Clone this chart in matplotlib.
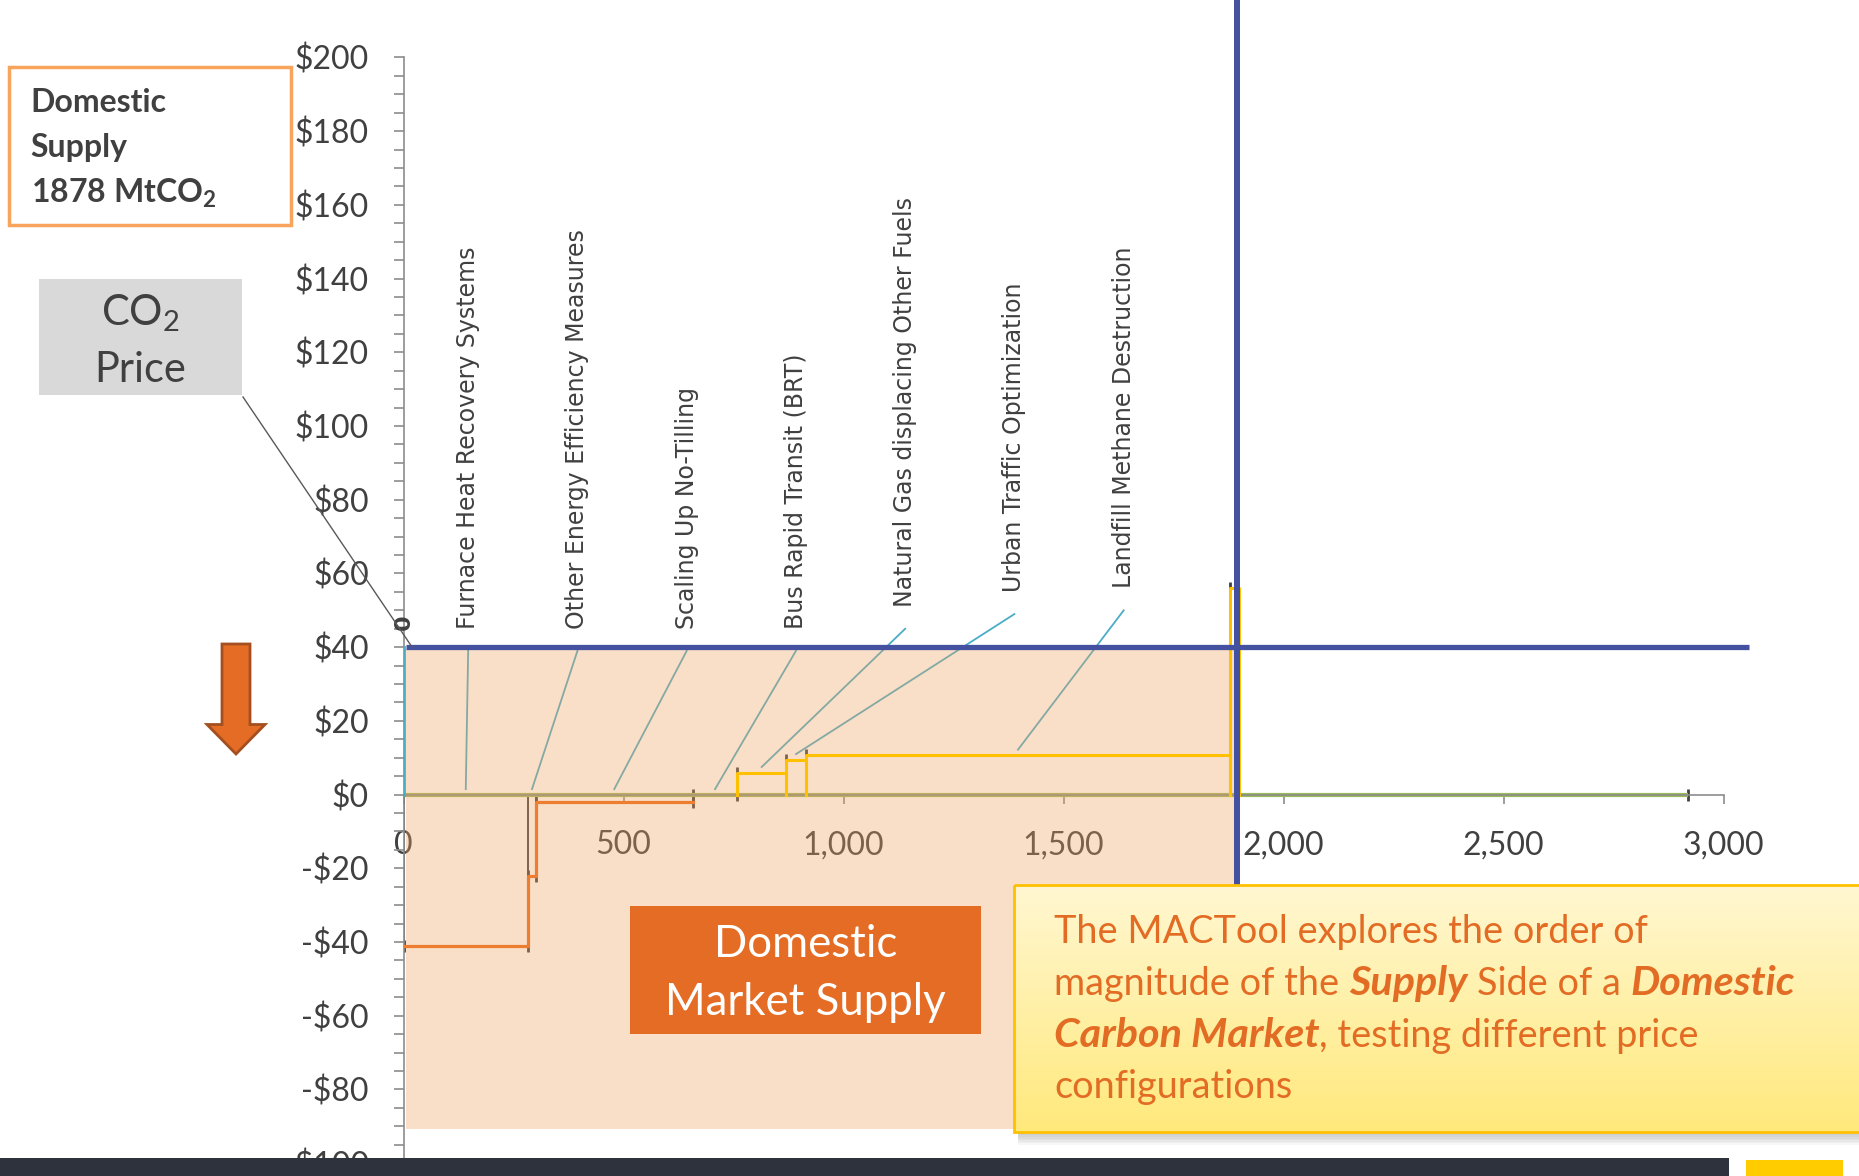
import numpy as np
import matplotlib
import matplotlib.pyplot as plt
from matplotlib.patches import Rectangle, Polygon
from matplotlib.colors import LinearSegmentedColormap
from matplotlib.ticker import MultipleLocator, FuncFormatter

plt.rcParams['font.family'] = ['Lato', 'DejaVu Sans']
plt.rcParams['mathtext.fontset'] = 'custom'
plt.rcParams['mathtext.rm'] = 'Lato'

# abatement measures in merit order: volume (MtCO2) and cost ($/tCO2)
measures = ["Furnace Heat Recovery Systems", "Other Energy Efficiency Measures",
            "Scaling Up No-Tilling", "Bus Rapid Transit (BRT)",
            "Natural Gas displacing Other Fuels", "Urban Traffic Optimization",
            "Landfill Methane Destruction"]
volumes = [283, 18, 356, 102, 110, 46, 963]
costs = [-41, -22, -2, 0, 6, 9.5, 10.7]

# first measure above the price, cut off by the supply line
extra_volume = 20
extra_cost = 56

carbon_price = 40
supply_line_x = 1895
total_potential = 2920

W, H = 1859, 1176
GRAY_TXT = '#404040'
AX_GRAY = '#8c8c8c'
BLUE = '#4450A0'
CYAN = '#4BACC6'
ORANGE = '#ED7D31'
YELLOW = '#FFC000'
GREEN = '#9BBB59'

fig = plt.figure(figsize=(W / 100, H / 100), dpi=100)
ax = fig.add_axes([403.5 / W, 12.8 / H, 1320 / W, 1105.7 / H])

edges = np.concatenate([[0], np.cumsum(volumes)])
left, right = edges[:-1], edges[1:]

# baseline of the whole potential
ax.plot([0, total_potential], [0, 0], color=GREEN, lw=3, zorder=2, solid_capstyle='butt')

# negative cost measures: dark bar edges + orange step
for l, r, c in zip(left, right, costs):
    if c < 0:
        ax.vlines([l, r], c, 0, color=GRAY_TXT, lw=1.2, zorder=1.9)
neg = [i for i, c in enumerate(costs) if c < 0]
ax.step(list(edges[:len(neg) + 1]), [costs[i] for i in neg] + [costs[neg[-1]]],
        where='post', color=ORANGE, lw=2.3, zorder=4)

# positive cost measures drawn as bar outlines
for l, r, c in zip(left, right, costs):
    if c > 0:
        ax.plot([l, l, r, r], [0, c, c, 0], color=YELLOW, lw=2.2, zorder=4)
x_end = edges[-1]
ax.plot([x_end, x_end, x_end + extra_volume, x_end + extra_volume],
        [0, extra_cost, extra_cost, 0], color=YELLOW, lw=2.2, zorder=4)

# point markers at step ends
ax.plot(np.concatenate([left, right, [x_end, total_potential]]),
        np.concatenate([costs, costs, [extra_cost, 0]]),
        ls='none', marker='|', ms=9, mew=2, color=GRAY_TXT, zorder=1.9)

ax.plot([0, 0], [0, carbon_price], color=CYAN, lw=2, zorder=3.5)

# leader lines and rotated labels
label_x = [147 + 248.3 * i for i in range(len(measures))]
label_bottom = [45, 45, 45, 45, 51, 55, 56]
for name, lx, lb, l, r, c in zip(measures, label_x, label_bottom, left, right, costs):
    ax.plot([lx, (l + r) / 2], [lb - 6, max(c, 0) + 1.5], color=CYAN, lw=1.3, zorder=2)
    ax.text(lx, lb, name, rotation=90, ha='center', va='bottom', fontsize=17,
            family='DejaVu Sans', color=GRAY_TXT, zorder=6)
ax.text(0, 44.7, "0", rotation=90, ha='center', va='bottom', fontsize=16,
        family='DejaVu Sans', fontweight='bold', color=GRAY_TXT, zorder=6)

# shaded supply region
ax.add_patch(Rectangle((5.7, -90.7), 1887 - 5.7, carbon_price - 0.5 + 90.7,
                       fc='#F1A462', alpha=0.35, ec='none', zorder=3, clip_on=False))

# price and supply lines
ax.plot([5.7, 3057], [carbon_price, carbon_price], color=BLUE, lw=3.8, zorder=5,
        clip_on=False, solid_capstyle='butt')
ax.plot([supply_line_x, supply_line_x], [-60, 216], color=BLUE, lw=4.3, zorder=5,
        clip_on=False, solid_capstyle='butt')

ax.set_xlim(0, 3000)
ax.set_ylim(-100, 200)
ax.xaxis.set_major_locator(MultipleLocator(500))
ax.yaxis.set_major_locator(MultipleLocator(20))
ax.yaxis.set_minor_locator(MultipleLocator(5))
ax.xaxis.set_major_formatter(FuncFormatter(lambda v, p: f"{v:,.0f}"))
ax.yaxis.set_major_formatter(FuncFormatter(lambda v, p: f"-${-v:.0f}" if v < 0 else f"${v:.0f}"))
ax.tick_params(axis='y', which='both', direction='out', length=7, width=1.2,
               color=AX_GRAY, labelsize=23, labelcolor=GRAY_TXT, pad=18)
ax.tick_params(axis='x', direction='out', length=6.5, width=1.2, color=AX_GRAY,
               labelsize=23, labelcolor=GRAY_TXT, pad=19)
for s in ['top', 'right']:
    ax.spines[s].set_visible(False)
ax.spines['bottom'].set_position(('data', 0))
for s in ['left', 'bottom']:
    ax.spines[s].set_color(AX_GRAY)
    ax.spines[s].set_linewidth(1.2)
ax.patch.set_visible(False)

# overlay in pixel coordinates for the slide shapes
ov = fig.add_axes([0, 0, 1, 1], zorder=5)
ov.set_facecolor('none')

ov.add_patch(Rectangle((9, 66.7), 282, 158.3, fc='white', ec='#F8A45C', lw=2.5))
for i, s in enumerate(["Domestic", "Supply", r"1878 MtCO$_\mathregular{2}$"]):
    ov.text(30.7, 111.7 + 45.3 * i, s, fontsize=23, fontweight='bold',
            color=GRAY_TXT, va='baseline')

ov.add_patch(Rectangle((39.3, 279.3), 202.4, 115.7, fc='#D9D9D9', ec='none'))
ov.text(140.5, 325, r"CO$_\mathregular{2}$", fontsize=30, color=GRAY_TXT,
        ha='center', va='baseline')
ov.text(140.5, 382.5, "Price", fontsize=30, color=GRAY_TXT, ha='center', va='baseline')
ov.plot([243, 412], [397, 647], color='#595959', lw=1)

ov.add_patch(Polygon([(222, 644), (250, 644), (250, 724.5), (265, 724.5), (236, 754),
                      (207, 724.5), (222, 724.5)], closed=True,
                     fc='#E46C24', ec='#A34F1F', lw=2))

ov.add_patch(Rectangle((629.7, 906), 351.8, 127.7, fc='#E46C24', ec='none'))
ov.text(805.6, 956.7, "Domestic", fontsize=31.5, color='white', ha='center', va='baseline')
ov.text(805.6, 1015, "Market Supply", fontsize=31.5, color='white', ha='center', va='baseline')

# callout box with shadow and gradient
for k in range(8):
    ov.add_patch(Rectangle((1018, 1131.7), 900, 2 + 1.6 * k, fc='#7f7f7f',
                           alpha=0.06, ec='none'))
grad = LinearSegmentedColormap.from_list('callout', ['#FFF7D2', '#FFE97C'])
ov.imshow(np.linspace(0, 1, 256).reshape(-1, 1), cmap=grad, aspect='auto',
          extent=[1013.6, 1880, 1131.7, 885], origin='upper', zorder=2)
ov.add_patch(Rectangle((1013.6, 885), 900, 246.7, fc='none', ec=YELLOW, lw=2, zorder=3))

callout = [
    [("The MACTool explores the order of", False, False)],
    [("magnitude of the", False, True), ("Supply", True, True),
     ("Side of a", False, True), ("Domestic", True, False)],
    [("Carbon Market", True, False), (", testing different price", False, False)],
    [("configurations", False, False)],
]
fs = 27.3
fs_emph = 29.8
renderer = fig.canvas.get_renderer()


def text_width(s, **kw):
    t = ov.text(0, 0, s, fontsize=fs, **kw)
    w = t.get_window_extent(renderer).width
    t.remove()
    return w


space = text_width("a a") - text_width("aa")
for k, segs in enumerate(callout):
    x = 1054
    for s, emph, sp in segs:
        t = ov.text(x, 943.3 + 51.7 * k, s, fontsize=fs_emph if emph else fs,
                    color='#E36C25', va='baseline',
                    fontweight='bold' if emph else 'normal',
                    fontstyle='italic' if emph else 'normal', zorder=4)
        x += t.get_window_extent(renderer).width + (space if sp else 0)

# slide footer
ov.add_patch(Rectangle((0, 1158), 1728.6, 18, fc='#2E323C', ec='none'))
ov.add_patch(Rectangle((1746, 1160), 97, 16, fc='#FFCC00', ec='none'))

ov.set_xlim(0, W)
ov.set_ylim(H, 0)
ov.axis('off')

fig.savefig('out.png', dpi=100)
